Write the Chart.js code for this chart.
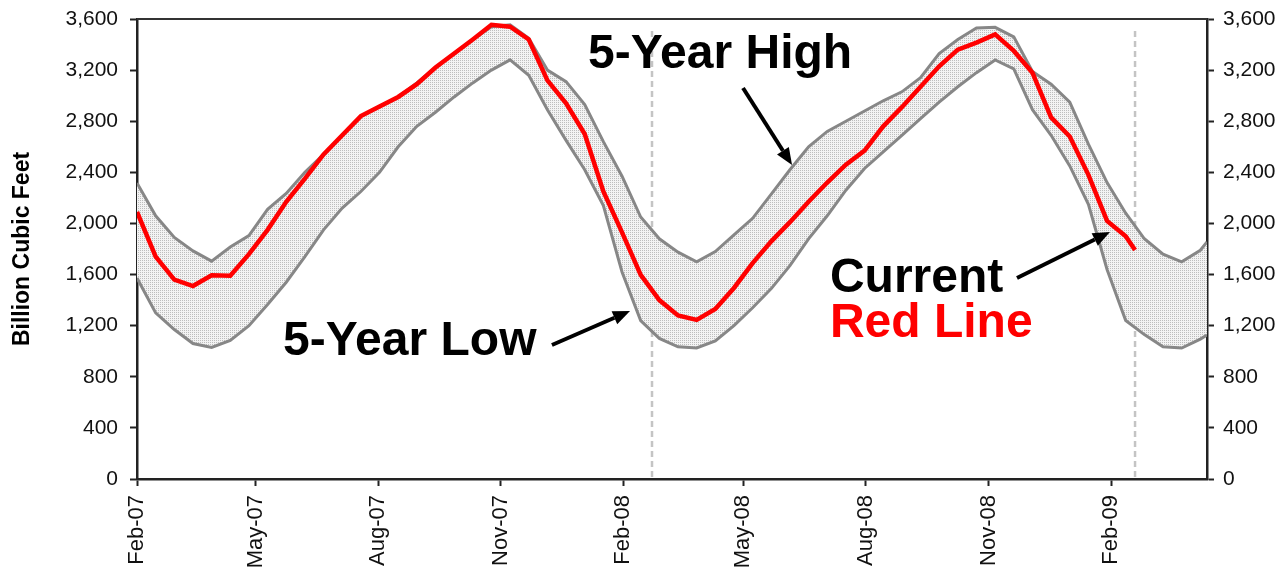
<!DOCTYPE html>
<html>
<head>
<meta charset="utf-8">
<script src="https://cdn.jsdelivr.net/npm/chart.js@4.4.1/dist/chart.umd.min.js"></script>
<style>
  body { margin: 0; background: #fff; }
  #wrap { width: 1284px; height: 571px; }
</style>
</head>
<body>
<div id="wrap"><canvas id="storage"></canvas></div>
<script>
// days since 1 Feb 2007
const days = [0, 14, 28, 42, 56, 70, 84, 98, 112, 126, 140, 154, 168, 182, 196, 210, 224, 238, 252, 266,
  280, 294, 308, 322, 336, 350, 364, 378, 392, 406, 420, 434, 448, 462, 476, 490, 504, 518, 532, 546,
  560, 574, 588, 602, 616, 630, 644, 658, 672, 686, 700, 714, 728, 742, 756, 770, 784, 798, 803];

const fiveYearHigh = [2316, 2060, 1890, 1785, 1705, 1815, 1905, 2110, 2235, 2400, 2540, 2690, 2840, 2915, 2990, 3100, 3220, 3330, 3440, 3540,
  3555, 3450, 3200, 3110, 2930, 2640, 2370, 2050, 1880, 1775, 1700, 1780, 1910, 2040, 2230, 2420, 2600, 2720, 2800, 2880,
  2960, 3030, 3140, 3330, 3440, 3530, 3535, 3460, 3190, 3090, 2950, 2620, 2320, 2080, 1880, 1760, 1700, 1790, 1855];

const fiveYearLow = [1573, 1300, 1170, 1060, 1030, 1085, 1200, 1365, 1540, 1740, 1950, 2120, 2250, 2400, 2600, 2760, 2870, 2990, 3100, 3200,
  3280, 3160, 2890, 2650, 2420, 2140, 1620, 1240, 1100, 1035, 1025, 1080, 1200, 1340, 1490, 1670, 1880, 2060, 2260, 2430,
  2560, 2690, 2820, 2950, 3070, 3180, 3280, 3210, 2890, 2690, 2450, 2150, 1640, 1240, 1130, 1035, 1025, 1095, 1127];

const currentDays = [0, 14, 28, 42, 56, 70, 84, 98, 112, 126, 140, 154, 168, 182, 196, 210, 224, 238, 252, 266,
  280, 294, 308, 322, 336, 350, 364, 378, 392, 406, 420, 434, 448, 462, 476, 490, 504, 518, 532, 546,
  560, 574, 588, 602, 616, 630, 644, 658, 672, 686, 700, 714, 728, 742, 749];

const current = [2090, 1740, 1560, 1510, 1595, 1590, 1760, 1950, 2170, 2350, 2540, 2690, 2840, 2915, 2990, 3090, 3220, 3330, 3440, 3555,
  3540, 3440, 3120, 2940, 2700, 2250, 1930, 1597, 1400, 1280, 1245, 1330, 1495, 1690, 1860, 2010, 2170, 2320, 2460, 2570,
  2760, 2910, 3070, 3230, 3360, 3415, 3480, 3350, 3180, 2830, 2680, 2380, 2020, 1900, 1792];

const tickDays = [0, 89, 181, 273, 365, 455, 547, 639, 731];
const tickLabels = ["Feb-07", "May-07", "Aug-07", "Nov-07", "Feb-08", "May-08", "Aug-08", "Nov-08", "Feb-09"];
const markerDays = [386.5, 749];

// callouts in data units (day, value)
const notes = [
  { text: "5-Year High", x: 338.5, y: 3217, color: "#000" },
  { text: "5-Year Low", x: 109.6, y: 970, color: "#000" },
  { text: "Current", x: 520, y: 1463, color: "#000" },
  { text: "Red Line", x: 520, y: 1111, color: "#ff0000" }
];
const arrows = [
  [454.8, 3060, 491.6, 2457],
  [311.4, 1049, 370, 1315],
  [660.4, 1573, 730.2, 1933]
];

function toPoints(xs, ys) {
  return xs.map((x, i) => ({ x: x, y: ys[i] }));
}

// dotted fill for the band
const pc = document.createElement("canvas");
pc.width = 2; pc.height = 2;
const pctx = pc.getContext("2d");
pctx.fillStyle = "#f3f3f3";
pctx.fillRect(0, 0, 2, 2);
pctx.fillStyle = "#bdbdbd";
pctx.fillRect(0, 0, 1, 1);
const dots = pctx.createPattern(pc, "repeat");

const FONT = "'Liberation Sans', Arial, sans-serif";

const extras = {
  id: "extras",
  beforeDatasetsDraw(chart) {
    const { ctx, chartArea, scales } = chart;
    ctx.save();
    ctx.strokeStyle = "#c4c4c4";
    ctx.lineWidth = 2.5;
    ctx.setLineDash([6, 4]);
    markerDays.forEach(d => {
      const x = scales.x.getPixelForValue(d);
      ctx.beginPath();
      ctx.moveTo(x, chartArea.top + 12);
      ctx.lineTo(x, chartArea.bottom);
      ctx.stroke();
    });
    ctx.restore();
  },
  afterDraw(chart) {
    const { ctx, chartArea, scales } = chart;
    ctx.save();
    // top frame line
    ctx.strokeStyle = "#333";
    ctx.lineWidth = 2;
    ctx.beginPath();
    ctx.moveTo(chartArea.left, chartArea.top);
    ctx.lineTo(chartArea.right, chartArea.top);
    ctx.stroke();

    ctx.font = "bold 48px " + FONT;
    ctx.textBaseline = "alphabetic";
    ctx.textAlign = "left";
    notes.forEach(n => {
      ctx.fillStyle = n.color;
      ctx.fillText(n.text, scales.x.getPixelForValue(n.x), scales.y.getPixelForValue(n.y));
    });

    ctx.strokeStyle = "#000";
    ctx.fillStyle = "#000";
    ctx.lineWidth = 4;
    arrows.forEach(a => {
      const x1 = scales.x.getPixelForValue(a[0]), y1 = scales.y.getPixelForValue(a[1]);
      const x2 = scales.x.getPixelForValue(a[2]), y2 = scales.y.getPixelForValue(a[3]);
      const ang = Math.atan2(y2 - y1, x2 - x1);
      const head = 17, half = 7;
      const bx = x2 - head * Math.cos(ang), by = y2 - head * Math.sin(ang);
      ctx.beginPath();
      ctx.moveTo(x1, y1);
      ctx.lineTo(bx, by);
      ctx.stroke();
      ctx.beginPath();
      ctx.moveTo(x2, y2);
      ctx.lineTo(bx + half * Math.sin(ang), by - half * Math.cos(ang));
      ctx.lineTo(bx - half * Math.sin(ang), by + half * Math.cos(ang));
      ctx.closePath();
      ctx.fill();
    });
    ctx.restore();
  }
};

const yTicks = {
  stepSize: 400,
  color: "#111",
  font: { family: FONT, size: 21 },
  callback: v => v.toLocaleString("en-US")
};

function fitY(width) {
  return s => {
    s.width = width;
    s.paddingTop = 0;
    s.paddingBottom = 0;
  };
}

new Chart(document.getElementById("storage"), {
  type: "line",
  data: {
    datasets: [
      {
        label: "5-Year High",
        data: toPoints(days, fiveYearHigh),
        borderColor: "#878787",
        borderWidth: 3,
        backgroundColor: dots,
        fill: "+1",
        pointRadius: 0,
        order: 2
      },
      {
        label: "5-Year Low",
        data: toPoints(days, fiveYearLow),
        borderColor: "#878787",
        borderWidth: 3,
        fill: false,
        pointRadius: 0,
        order: 1
      },
      {
        label: "Current",
        data: toPoints(currentDays, current),
        borderColor: "#ff0000",
        borderWidth: 4.5,
        fill: false,
        pointRadius: 0,
        order: 0
      }
    ]
  },
  options: {
    responsive: true,
    maintainAspectRatio: false,
    animation: false,
    layout: { padding: { top: 19, left: 0, right: 0, bottom: 0 } },
    plugins: { legend: { display: false }, tooltip: { enabled: false } },
    scales: {
      x: {
        type: "linear",
        min: 0,
        max: 803,
        afterBuildTicks: s => { s.ticks = tickDays.map(v => ({ value: v })); },
        afterFit: s => { s.height = 92; s.paddingLeft = 0; s.paddingRight = 0; },
        ticks: {
          autoSkip: false,
          minRotation: 90,
          maxRotation: 90,
          padding: 9,
          color: "#111",
          font: { family: FONT, size: 22 },
          callback: v => tickLabels[tickDays.indexOf(v)]
        },
        grid: { drawOnChartArea: false, tickLength: 7, tickColor: "#222", tickWidth: 2 },
        border: { color: "#222", width: 2.5 }
      },
      y: {
        position: "left",
        min: 0,
        max: 3600,
        afterFit: fitY(137),
        ticks: Object.assign({ padding: 12 }, yTicks),
        grid: { drawOnChartArea: false, tickLength: 7, tickColor: "#222", tickWidth: 2 },
        border: { color: "#222", width: 2.5 },
        title: {
          display: true,
          text: "Billion Cubic Feet",
          color: "#000",
          font: { family: FONT, size: 23, weight: "bold" },
          padding: { top: 9, bottom: 0 }
        }
      },
      y2: {
        position: "right",
        min: 0,
        max: 3600,
        afterFit: fitY(77),
        ticks: Object.assign({ padding: 9 }, yTicks),
        grid: { drawOnChartArea: false, tickLength: 7, tickColor: "#222", tickWidth: 2 },
        border: { color: "#222", width: 2.5 }
      }
    }
  },
  plugins: [extras]
});
</script>
</body>
</html>
